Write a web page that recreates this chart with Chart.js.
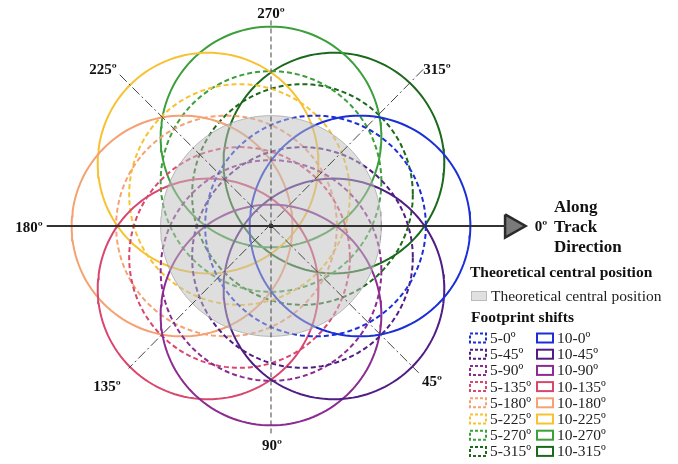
<!DOCTYPE html>
<html lang="en">
<head>
<meta charset="UTF-8">
<title>Footprint shifts</title>
<script src="https://cdn.jsdelivr.net/npm/chart.js@4.4.1/dist/chart.umd.min.js"></script>
<style>
  html, body { margin: 0; padding: 0; background: #fff; }
  #wrap { width: 678px; height: 464px; }
</style>
</head>
<body>
<div id="wrap"><canvas id="footprint" width="678" height="464"></canvas></div>
<script>
// data
var shifts = [5, 10];
var angles = [0, 45, 90, 135, 180, 225, 270, 315];
var footprintRadius = 12.4;
var angleLabels = ['0º', '45º', '90º', '135º', '180º', '225º', '270º', '315º'];
var palette = ['#1a2fd8', '#4f1d84', '#8c2c90', '#d9476f', '#f5a172', '#f7c232', '#3c9f3c', '#1b6a1b'];

// circle outline through the scale (value units)
function circlePts(cx, cy, r) {
   var pts = [];
   for (var k = 0; k <= 144; k++) {
      var t = k / 144 * 2 * Math.PI;
      pts.push({ x: cx + r * Math.cos(t), y: cy + r * Math.sin(t) });
   }
   return pts;
}
function rad(a) { return a * Math.PI / 180; }

var datasets = [];

// axes (drawn on top)
datasets.push({
   label: 'axis-h', data: [{ x: -25.2, y: 0 }, { x: 26.4, y: 0 }],
   borderColor: '#333', borderWidth: 2, pointRadius: 0, order: 0
});
datasets.push({
   label: 'arrow', data: [{ x: 26.3, y: -1.3 }, { x: 28.6, y: 0 }, { x: 26.3, y: 1.3 }, { x: 26.3, y: -1.3 }],
   backgroundColor: '#7a7a7a', borderColor: '#2a2a2a', borderWidth: 2.5,
   fill: 'shape', pointRadius: 0, order: 0
});
datasets.push({
   label: 'axis-v', data: [{ x: 0, y: -23.1 }, { x: 0, y: 23.6 }],
   borderColor: '#444', borderWidth: 1, borderDash: [5, 3], pointRadius: 0, order: 0
});
datasets.push({
   label: 'axis-d1', data: [{ x: -17, y: -17 }, { x: 16.6, y: 16.5 }],
   borderColor: '#444', borderWidth: 1, borderDash: [10, 3, 2, 3], pointRadius: 0, order: 0
});
datasets.push({
   label: 'axis-d2', data: [{ x: 17.1, y: -17.6 }, { x: -16, y: 16 }],
   borderColor: '#444', borderWidth: 1, borderDash: [10, 3, 2, 3], pointRadius: 0, order: 0
});
datasets.push({
   label: 'center', data: circlePts(0, 0, 0.2),
   borderColor: '#111', borderWidth: 1, backgroundColor: '#111', fill: 'shape',
   pointRadius: 0, order: 0
});

// theoretical central position
datasets.push({
   label: 'Theoretical central position',
   data: circlePts(0, 0, footprintRadius),
   borderColor: 'rgba(160,160,160,0.7)', borderWidth: 1,
   backgroundColor: 'rgba(192,192,192,0.52)', fill: 'shape',
   pointRadius: 0, order: 1
});

// footprint shifts
angles.forEach(function (a, i) {
   shifts.forEach(function (s) {
      datasets.push({
         label: s + '-' + a + 'º',
         data: circlePts(s * Math.cos(rad(a)), s * Math.sin(rad(a)), footprintRadius),
         borderColor: palette[i], borderWidth: 2,
         borderDash: s === 5 ? [5, 3] : [],
         pointRadius: 0, fill: false, order: 2
      });
   });
});

// labels + legend
var labelPlugin = {
   id: 'labels',
   afterDraw: function (chart) {
      var c = chart.ctx;
      var xs = chart.scales.x, ys = chart.scales.y;
      var cx = xs.getPixelForValue(0), cy = ys.getPixelForValue(0);
      c.save();
      c.fillStyle = '#111';
      c.textAlign = 'center';
      c.textBaseline = 'middle';
      c.font = 'bold 15px "Liberation Serif"';
      var off = { 0: [270, 1], 45: [161, 156], 90: [1, 220], 135: [-164, 161], 180: [-242, 2],
         225: [-168, -156], 270: [0, -212], 315: [166, -156] };
      angles.forEach(function (a, i) {
         c.fillText(angleLabels[i], cx + off[a][0], cy + off[a][1]);
      });
      c.textAlign = 'left';
      c.font = 'bold 17px "Liberation Serif"';
      c.fillText('Along', 554, 208);
      c.fillText('Track', 554, 228);
      c.fillText('Direction', 554, 248);

      c.font = 'bold 15.5px "Liberation Serif"';
      c.fillText('Theoretical central position', 470, 273);
      c.fillStyle = '#e0e0e0';
      c.fillRect(471.5, 291.5, 15, 9);
      c.strokeStyle = '#bbb'; c.lineWidth = 1;
      c.strokeRect(471.5, 291.5, 15, 9);
      c.fillStyle = '#222';
      c.font = '15.5px "Liberation Serif"';
      c.fillText('Theoretical central position', 491, 297);
      c.font = 'bold 15.5px "Liberation Serif"';
      c.fillStyle = '#111';
      c.fillText('Footprint shifts', 471, 318);

      c.font = '15.5px "Liberation Serif"';
      angles.forEach(function (a, i) {
         var y = 338 + i * 16.2;
         shifts.forEach(function (s, j) {
            var bx = j === 0 ? 470 : 537;
            c.strokeStyle = palette[i];
            c.lineWidth = 2;
            c.setLineDash(s === 5 ? [3, 2] : []);
            c.strokeRect(bx, y - 4.5, 16, 9);
            c.setLineDash([]);
            c.fillStyle = '#222';
            c.fillText(s + '-' + a + 'º', bx + 20, y + 1);
         });
      });
      c.restore();
   }
};

var pxPerUnit = 8.9;
new Chart(document.getElementById('footprint'), {
   type: 'scatter',
   data: { datasets: datasets },
   plugins: [labelPlugin],
   options: {
      responsive: false,
      animation: false,
      layout: { padding: 0 },
      elements: { line: { tension: 0 } },
      plugins: { legend: { display: false }, tooltip: { enabled: false } },
      datasets: { scatter: { showLine: true } },
      scales: {
         x: { display: false, min: -271 / pxPerUnit, max: 407 / pxPerUnit },
         y: { display: false, reverse: true, min: -226 / pxPerUnit, max: 238 / pxPerUnit }
      }
   }
});
</script>
</body>
</html>
